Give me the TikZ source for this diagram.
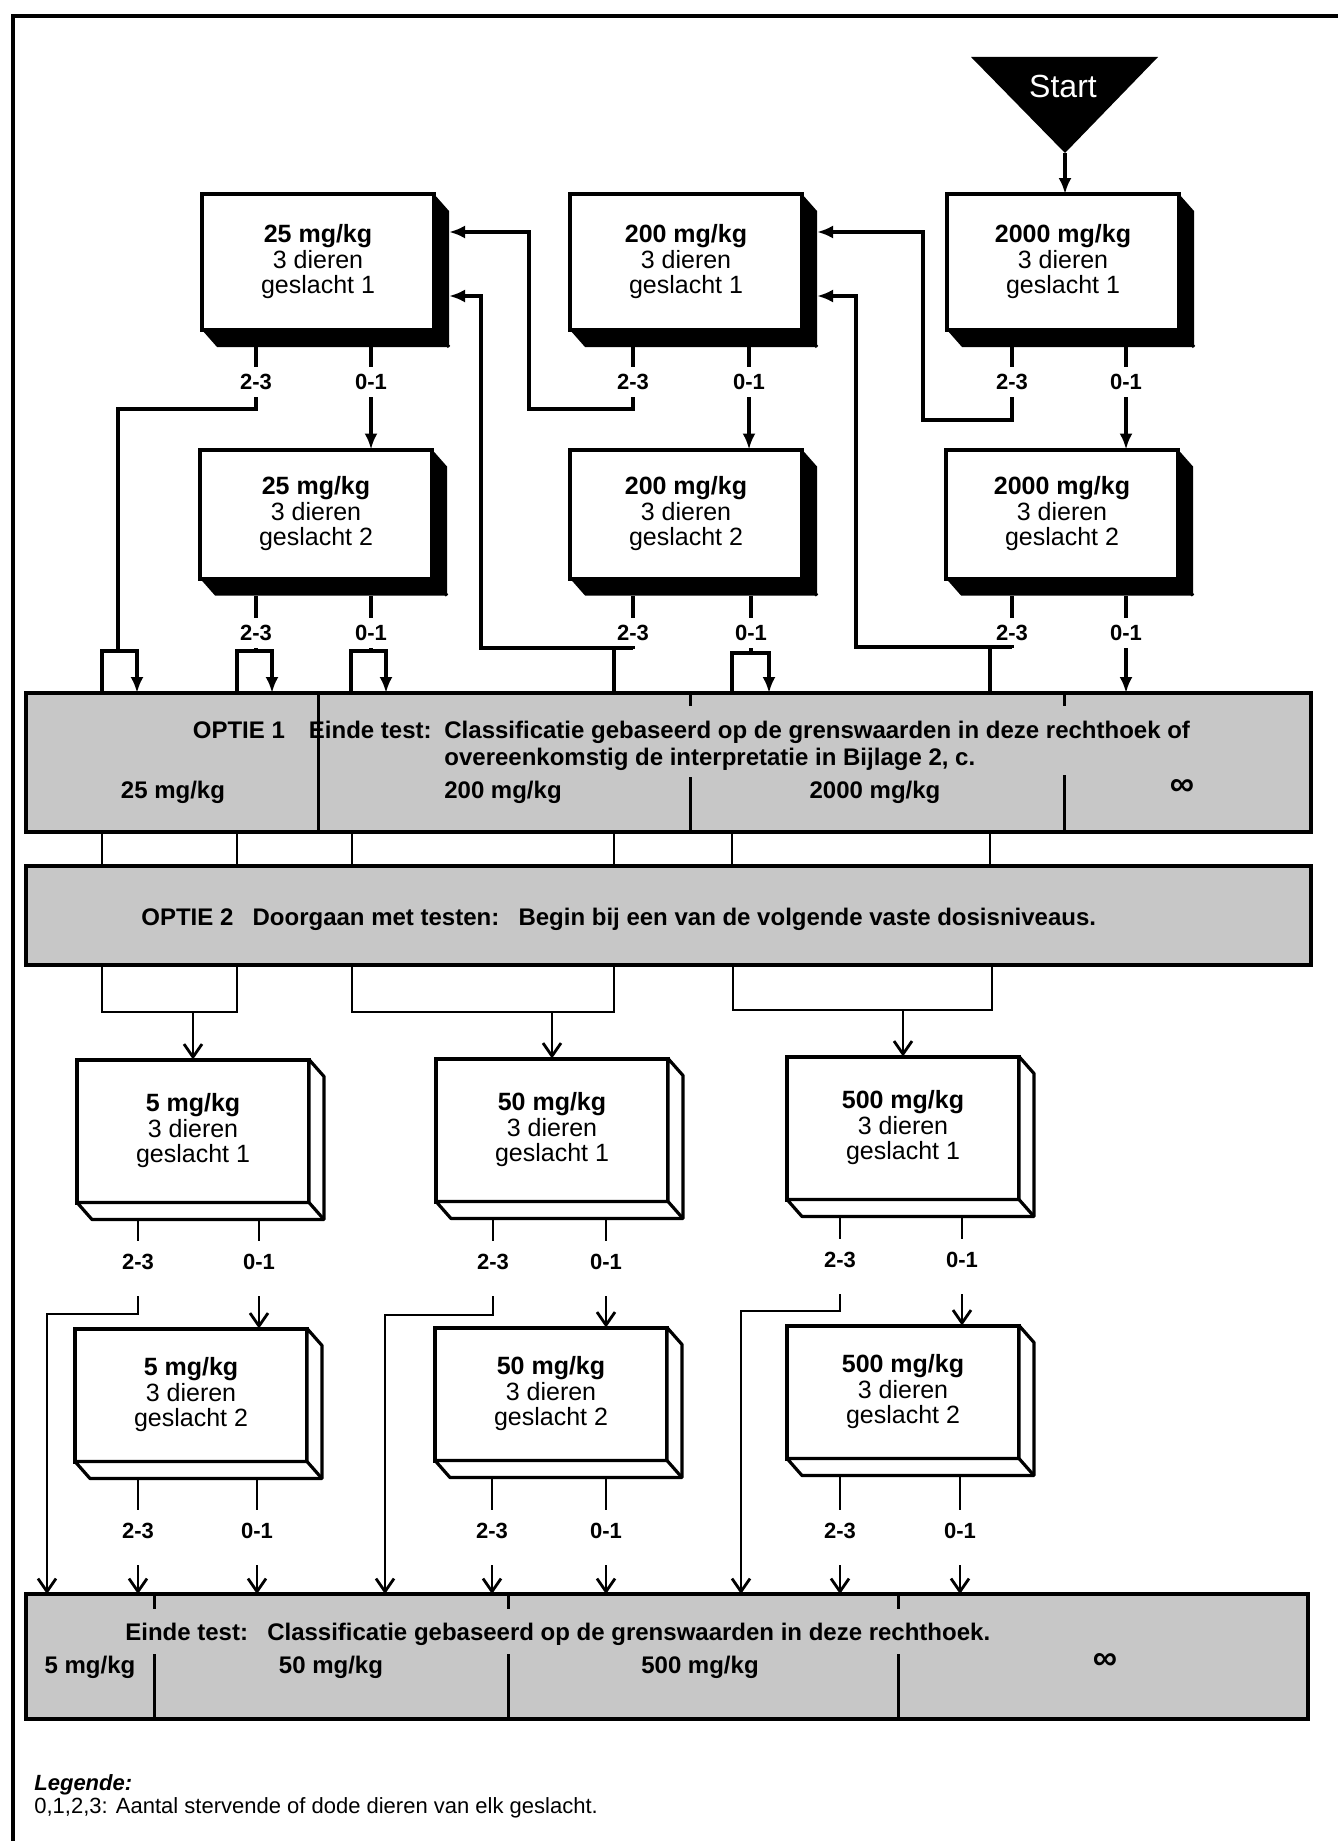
\documentclass[tikz,border=0pt]{standalone}
\usepackage{fontspec}
\setmainfont{Liberation Sans}
\usetikzlibrary{arrows.meta,calc}
\newcommand\boxthree[5]{%
  \node[dbox, minimum height=#3] (#1) at #2 {#5};
  \path[#4] (#1.north east) -- ($(#1.north east)+(15,17)$) -- ($(#1.south east)+(15,17)$) -- ($(#1.south west)+(15,17)$) -- (#1.south west) -- (#1.south east) -- cycle;
  \draw[line width=1.6pt] (#1.south east) -- ($(#1.south east)+(15,17)$);
  \coordinate (#1-bot) at ($(#1.south)+(0,17)$);
}
\begin{document}
\begin{tikzpicture}[x=0.5pt,y=-0.5pt,
  dbox/.style={draw, line width=2pt, fill=white, minimum width=116pt, inner sep=0pt, outer sep=0pt, align=center, font=\fontsize{12.5}{12.75}\selectfont},
  extrblack/.style={fill=black},
  extrwhite/.style={draw, fill=white, line width=1.6pt, line join=round},
  lbl/.style={font=\bfseries\fontsize{11}{11}\selectfont, inner xsep=2pt, inner ysep=3.5pt},
  llbl/.style={font=\bfseries\fontsize{11}{11}\selectfont, inner xsep=2pt, inner ysep=6.5pt},
  conn/.style={line width=1.8pt},
  arr/.style={conn, -{Latex[length=8pt,width=6.5pt]}},
  lconn/.style={line width=1.4pt},
  larr/.style={lconn, -{Straight Barb[length=6.5pt,width=9pt]}},
  bar/.style={draw, line width=2.2pt, fill=black!22, inner sep=0pt, outer sep=0pt},
  bt/.style={font=\bfseries\fontsize{12}{12}\selectfont, inner sep=0pt},
  inf/.style={font=\bfseries\fontsize{17}{17}\selectfont, inner sep=0pt},
  divider/.style={line width=1.5pt}]
\useasboundingbox (0,0) rectangle (1338,1841);

% frame
\draw[line width=1.8pt] (13,1841) -- (13,16) -- (1338,16);

% start triangle
\fill (971,57) -- (1158,57) -- (1065,153) -- cycle;
\node[text=white, font=\fontsize{16}{16}\selectfont] (start) at (1063,86) {Start};
\coordinate (startapex) at (1065,153);

% bars
\node[bar, minimum width=642.5pt, minimum height=69.5pt] (opt1) at (668.5,762.5) {};
\node[bar, minimum width=642.5pt, minimum height=49.5pt] (opt2) at (668.5,915.5) {};
\node[bar, minimum width=641pt, minimum height=62.5pt] (bar3) at (667,1656.5) {};

% dividers
\draw[divider] (318,693) -- (318,832);
\draw[divider] (690,693) -- (690,706) (690,777) -- (690,832);
\draw[divider] (1064,693) -- (1064,706) (1064,775) -- (1064,832);
\foreach \x in {154,508,898} \draw[divider] (\x,1594) -- (\x,1609) (\x,1654) -- (\x,1719);

% bar texts
\node[bt, anchor=base east] (o1a) at (432,738) {OPTIE 1\hspace{1em}Einde test:};
\node[bt, anchor=base west] (o1b) at (444,738) {Classificatie gebaseerd op de grenswaarden in deze rechthoek of};
\node[bt, anchor=base west] (o1c) at (444,765) {overeenkomstig de interpretatie in Bijlage 2, c.};
\node[bt, anchor=base] (o1l1) at (173,798) {25 mg/kg};
\node[bt, anchor=base] (o1l2) at (503,798) {200 mg/kg};
\node[bt, anchor=base] (o1l3) at (875,798) {2000 mg/kg};
\node[inf] (o1l4) at (1182,787) {∞};
\node[bt, anchor=base west] (o2t) at (141,925) {OPTIE 2\hspace{0.8em}Doorgaan met testen:\hspace{0.8em}Begin bij een van de volgende vaste dosisniveaus.};
\node[bt, anchor=base west] (b3t) at (125,1640) {Einde test:\hspace{0.8em}Classificatie gebaseerd op de grenswaarden in deze rechthoek.};
\node[bt, anchor=base] (b3l1) at (90,1673) {5 mg/kg};
\node[bt, anchor=base] (b3l2) at (331,1673) {50 mg/kg};
\node[bt, anchor=base] (b3l3) at (700,1673) {500 mg/kg};
\node[inf] (b3l4) at (1105,1661) {∞};

% upper boxes
\boxthree{b25a}{(318,262)}{68pt}{extrblack}{\textbf{25 mg/kg}\\3 dieren\\geslacht 1}
\boxthree{b200a}{(686,262)}{68pt}{extrblack}{\textbf{200 mg/kg}\\3 dieren\\geslacht 1}
\boxthree{b2000a}{(1063,262)}{68pt}{extrblack}{\textbf{2000 mg/kg}\\3 dieren\\geslacht 1}
\boxthree{b25b}{(316,514)}{64.5pt}{extrblack}{\textbf{25 mg/kg}\\3 dieren\\geslacht 2}
\boxthree{b200b}{(686,514)}{64.5pt}{extrblack}{\textbf{200 mg/kg}\\3 dieren\\geslacht 2}
\boxthree{b2000b}{(1062,514)}{64.5pt}{extrblack}{\textbf{2000 mg/kg}\\3 dieren\\geslacht 2}

% lower boxes
\boxthree{b5a}{(193,1131)}{71.5pt}{extrwhite}{\textbf{5 mg/kg}\\3 dieren\\geslacht 1}
\boxthree{b50a}{(552,1130)}{71.5pt}{extrwhite}{\textbf{50 mg/kg}\\3 dieren\\geslacht 1}
\boxthree{b500a}{(903,1128)}{71.5pt}{extrwhite}{\textbf{500 mg/kg}\\3 dieren\\geslacht 1}
\boxthree{b5b}{(191,1395)}{66.5pt}{extrwhite}{\textbf{5 mg/kg}\\3 dieren\\geslacht 2}
\boxthree{b50b}{(551,1394)}{66.5pt}{extrwhite}{\textbf{50 mg/kg}\\3 dieren\\geslacht 2}
\boxthree{b500b}{(903,1392)}{66.5pt}{extrwhite}{\textbf{500 mg/kg}\\3 dieren\\geslacht 2}

% upper labels
\node[lbl] (la1) at (256,382) {2-3};
\node[lbl] (ra1) at (371,382) {0-1};
\node[lbl] (lb1) at (633,382) {2-3};
\node[lbl] (rb1) at (749,382) {0-1};
\node[lbl] (lc1) at (1012,382) {2-3};
\node[lbl] (rc1) at (1126,382) {0-1};
\node[lbl] (la2) at (256,633) {2-3};
\node[lbl] (ra2) at (371,633) {0-1};
\node[lbl] (lb2) at (633,633) {2-3};
\node[lbl] (rb2) at (751,633) {0-1};
\node[lbl] (lc2) at (1012,633) {2-3};
\node[lbl] (rc2) at (1126,633) {0-1};

% lower labels
\node[llbl] (l5a) at (138,1262) {2-3};
\node[llbl] (r5a) at (259,1262) {0-1};
\node[llbl] (l50a) at (493,1262) {2-3};
\node[llbl] (r50a) at (606,1262) {0-1};
\node[llbl] (l500a) at (840,1260) {2-3};
\node[llbl] (r500a) at (962,1260) {0-1};
\node[llbl] (l5b) at (138,1531) {2-3};
\node[llbl] (r5b) at (257,1531) {0-1};
\node[llbl] (l50b) at (492,1531) {2-3};
\node[llbl] (r50b) at (606,1531) {0-1};
\node[llbl] (l500b) at (840,1531) {2-3};
\node[llbl] (r500b) at (960,1531) {0-1};

% ---- upper connectors
\draw[arr] (startapex) -- (startapex |- b2000a.north);
\foreach \l/\b in {la1/b25a,ra1/b25a,lb1/b200a,rb1/b200a,lc1/b2000a,rc1/b2000a,la2/b25b,ra2/b25b,lb2/b200b,rb2/b200b,lc2/b2000b,rc2/b2000b}
  \draw[conn] (\l.north) -- (\l.north |- \b-bot);
\draw[arr] (ra1.south) -- (ra1.south |- b25b.north);
\draw[arr] (rb1.south) -- (rb1.south |- b200b.north);
\draw[arr] (rc1.south) -- (rc1.south |- b2000b.north);
\draw[conn] (la1.south) |- (118,409) -- (118,651);
\draw[arr] (102,693) |- (137,651) -- (137,693);
\draw[arr] (lb1.south) |- (529,409) |- (449,232);
\draw[arr] (lc1.south) |- (923,420) |- (817,232);
\draw[conn] (la2.south) -- (256,651);
\draw[arr] (237,693) |- (272,651) -- (272,693);
\draw[conn] (ra2.south) -- (371,651);
\draw[arr] (351,693) |- (386,651) -- (386,693);
\draw[arr] (lb2.south) |- (481,648) |- (449,296);
\draw[conn] (614,648) -- (614,693);
\draw[conn] (rb2.south) -- (751,653);
\draw[arr] (732,693) |- (769,653) -- (769,693);
\draw[arr] (lc2.south) |- (856,647) |- (817,296);
\draw[conn] (990,647) -- (990,693);
\draw[arr] (rc2.south) -- (rc2.south |- opt1.north);

% between the option bars
\foreach \x in {102,237,352,614,732,990} \draw[lconn] (\x,832) -- (\x,866);

% from option 2 to the lower boxes
\draw[lconn] (102,965) |- (237,1012) -- (237,965);
\draw[larr] (193,1012) -- (b5a.north);
\draw[lconn] (352,965) |- (614,1012) -- (614,965);
\draw[larr] (552,1012) -- (b50a.north);
\draw[lconn] (733,965) |- (992,1010) -- (992,965);
\draw[larr] (903,1010) -- (b500a.north);

% ---- lower connectors
\foreach \l/\b in {l5a/b5a,r5a/b5a,l50a/b50a,r50a/b50a,l500a/b500a,r500a/b500a,l5b/b5b,r5b/b5b,l50b/b50b,r50b/b50b,l500b/b500b,r500b/b500b}
  \draw[lconn] (\l.north) -- (\l.north |- \b-bot);
\draw[larr] ($(r5a.south)+(0,13)$) -- (r5a.south |- b5b.north);
\draw[larr] ($(r50a.south)+(0,13)$) -- (r50a.south |- b50b.north);
\draw[larr] ($(r500a.south)+(0,13)$) -- (r500a.south |- b500b.north);
\draw[larr] ($(l5a.south)+(0,13)$) |- (47,1314) -- (47,1594);
\draw[larr] ($(l50a.south)+(0,13)$) |- (385,1315) -- (385,1594);
\draw[larr] ($(l500a.south)+(0,13)$) |- (741,1311) -- (741,1594);
\foreach \l in {l5b,r5b,l50b,r50b,l500b,r500b}
  \draw[larr] ($(\l.south)+(0,13)$) -- (\l.south |- bar3.north);

% legend
\node[anchor=base west, inner sep=0pt, font=\bfseries\itshape\fontsize{11}{13}\selectfont] (leg1) at (34,1790) {Legende:};
\node[anchor=base west, inner sep=0pt, font=\fontsize{11}{13}\selectfont] (leg2) at (34,1813) {0,1,2,3: Aantal stervende of dode dieren van elk geslacht.};
\end{tikzpicture}
\end{document}
